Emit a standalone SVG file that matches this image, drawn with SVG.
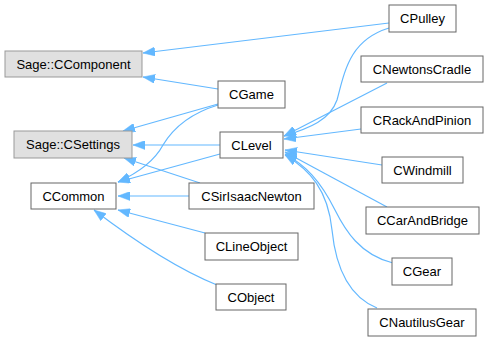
<svg xmlns="http://www.w3.org/2000/svg" width="489" height="341" viewBox="0 0 489 341">
  <style>
    .node rect { fill: #ffffff; stroke: #666666; stroke-width: 1; }
    .node.ext rect { fill: #e0e0e0; stroke: #999999; }
    .node text { font-family: "Liberation Sans", Arial, sans-serif; font-size: 13px; fill: #000000; text-anchor: middle; }
    .edges path { fill: none; stroke: #63b8ff; stroke-width: 1.2; marker-end: url(#inherit); }
  </style>
  <defs>
    <marker id="inherit" viewBox="0 0 12 9" refX="12" refY="4.5" markerWidth="12" markerHeight="9" markerUnits="userSpaceOnUse" orient="auto">
      <path d="M0,0 L12,4.5 L0,9 Z" fill="#63b8ff" stroke="#63b8ff" stroke-width="0.5"/>
    </marker>
  </defs>
  <rect width="489" height="341" fill="#ffffff"/>

  <!-- inheritance connectors, child to base -->
  <g id="edges" class="edges">
    <path d="M389,23 L143,53"/>
    <path d="M218,89 L143,77"/>
    <path d="M218,104 L123,131"/>
    <path d="M218,105 C195,112 175,125 163,145 C155,160 140,172 118,182"/>
    <path d="M220,145 L133,145"/>
    <path d="M220,154 L118,182"/>
    <path d="M200,183 L124,158"/>
    <path d="M189,196 L118,196"/>
    <path d="M205,233 L118,210"/>
    <path d="M217,285 C180,270 140,245 94,210"/>
    <path d="M389,28 C350,40 345,70 337,100 C330,120 310,128 284,136"/>
    <path d="M387,83 L284,136"/>
    <path d="M361,129 L284,139"/>
    <path d="M382,165 L285,150"/>
    <path d="M387,207 L285,152"/>
    <path d="M393,263 C360,255 345,230 335,210 C320,180 305,165 285,154"/>
    <path d="M377,308 C345,295 335,260 332,230 C328,190 310,170 285,155"/>
  </g>

  <g id="node-ccomponent" class="node ext">
    <rect x="5" y="51" width="137" height="26"/>
    <text x="73.5" y="68.5">Sage::CComponent</text>
  </g>
  <g id="node-csettings" class="node ext">
    <rect x="14" y="131" width="118" height="27"/>
    <text x="73" y="149">Sage::CSettings</text>
  </g>
  <g id="node-ccommon" class="node">
    <rect x="31" y="183" width="85" height="26"/>
    <text x="73.5" y="200.5">CCommon</text>
  </g>
  <g id="node-cgame" class="node">
    <rect x="218" y="81" width="67" height="27"/>
    <text x="251.5" y="99">CGame</text>
  </g>
  <g id="node-clevel" class="node">
    <rect x="220" y="132" width="63" height="26"/>
    <text x="251.5" y="149.5">CLevel</text>
  </g>
  <g id="node-csirisaacnewton" class="node">
    <rect x="189" y="183" width="125" height="26"/>
    <text x="251.5" y="200.5">CSirIsaacNewton</text>
  </g>
  <g id="node-clineobject" class="node">
    <rect x="205" y="233" width="93" height="27"/>
    <text x="251.5" y="251">CLineObject</text>
  </g>
  <g id="node-cobject" class="node">
    <rect x="216" y="284" width="70" height="26"/>
    <text x="251" y="301.5">CObject</text>
  </g>
  <g id="node-cpulley" class="node">
    <rect x="389" y="5" width="67" height="27"/>
    <text x="422.5" y="23">CPulley</text>
  </g>
  <g id="node-cnewtonscradle" class="node">
    <rect x="361" y="56" width="122" height="26"/>
    <text x="422" y="73.5">CNewtonsCradle</text>
  </g>
  <g id="node-crackandpinion" class="node">
    <rect x="361" y="107" width="122" height="26"/>
    <text x="422" y="124.5">CRackAndPinion</text>
  </g>
  <g id="node-cwindmill" class="node">
    <rect x="382" y="157" width="81" height="26"/>
    <text x="422.5" y="174.5">CWindmill</text>
  </g>
  <g id="node-ccarandbridge" class="node">
    <rect x="366" y="207" width="113" height="27"/>
    <text x="422.5" y="225">CCarAndBridge</text>
  </g>
  <g id="node-cgear" class="node">
    <rect x="392" y="258" width="60" height="27"/>
    <text x="422" y="276">CGear</text>
  </g>
  <g id="node-cnautilusgear" class="node">
    <rect x="368" y="309" width="108" height="27"/>
    <text x="422" y="327">CNautilusGear</text>
  </g>
</svg>
